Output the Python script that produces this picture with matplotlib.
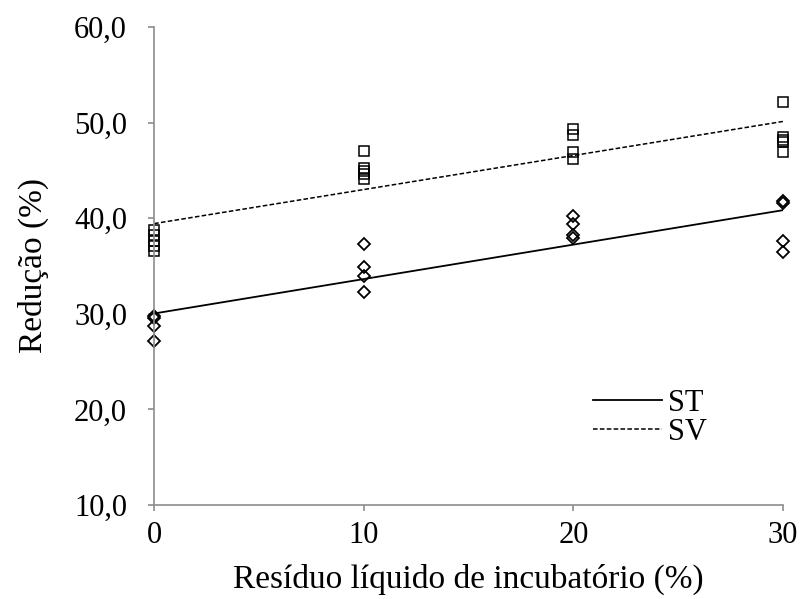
import numpy as np
from matplotlib import pyplot as plt

plt.rcParams['font.family'] = ['Liberation Serif', 'DejaVu Serif']

# residuo liquido de incubatorio (%)
x_st = [0, 0, 0, 0, 10, 10, 10, 10, 20, 20, 20, 20, 30, 30, 30, 30]
st = [29.8, 29.6, 28.7, 27.1, 37.3, 34.9, 34.0, 32.3, 40.2, 39.4, 38.2, 37.9, 41.8, 41.6, 37.6, 36.5]

x_sv = [0, 0, 0, 0, 0, 10, 10, 10, 10, 10, 20, 20, 20, 20, 30, 30, 30, 30, 30]
sv = [38.8, 38.2, 37.6, 37.1, 36.6, 47.0, 45.2, 44.9, 44.6, 44.1, 49.3, 48.7, 46.9, 46.2, 52.1, 48.5, 48.2, 48.0, 46.9]

yticks = [10, 20, 30, 40, 50, 60]
xticks = [0, 10, 20, 30]
grey = '#8c8c8c'

def main():
	fig = plt.figure(figsize=(8.03, 5.99), dpi=100)
	ax = fig.add_axes([0.192, 0.157, 0.783, 0.798])

	ax.plot(x_sv, sv, 's', ms=7, mfc='none', mec='black', mew=1.1, clip_on=False)
	ax.plot(x_st, st, 'D', ms=6, mfc='none', mec='black', mew=1.3, clip_on=False)

	# linear fits
	xx = np.array([0, 30])
	b_st = np.polyfit(x_st, st, 1)
	b_sv = np.polyfit(x_sv, sv, 1)
	ax.plot(xx, np.polyval(b_st, xx), color='black', lw=1.3, label='ST')
	ax.plot(xx, np.polyval(b_sv, xx), color='black', lw=1.1, ls=(0, (3, 1.5)), label='SV')

	ax.set_xlim(0, 30)
	ax.set_ylim(10, 60)
	ax.set_xticks(xticks)
	ax.set_yticks(yticks)
	ax.set_yticklabels([('%.1f' % v).replace('.', ',') for v in yticks])
	ax.set_xticklabels([str(v) for v in xticks])
	ax.tick_params(axis='both', labelsize=22, color=grey, length=4.5, width=1.2, direction='out')
	ax.tick_params(axis='x', pad=7)
	ax.tick_params(axis='y', pad=15)
	for s in ['top', 'right']:
		ax.spines[s].set_visible(False)
	for s in ['left', 'bottom']:
		ax.spines[s].set_color(grey)
		ax.spines[s].set_linewidth(1.2)

	ax.set_xlabel('Resíduo líquido de incubatório (%)', fontsize=24, labelpad=10)
	ax.set_ylabel('Redução (%)', fontsize=24, labelpad=18)

	leg = ax.legend(loc='upper left', bbox_to_anchor=(0.698, 0.243), frameon=False, fontsize=22,
		handlelength=2.25, handletextpad=0.2, labelspacing=0.0, borderpad=0, borderaxespad=0)
	fig.savefig('out.png', dpi=100)

if __name__ == '__main__':
	main()
